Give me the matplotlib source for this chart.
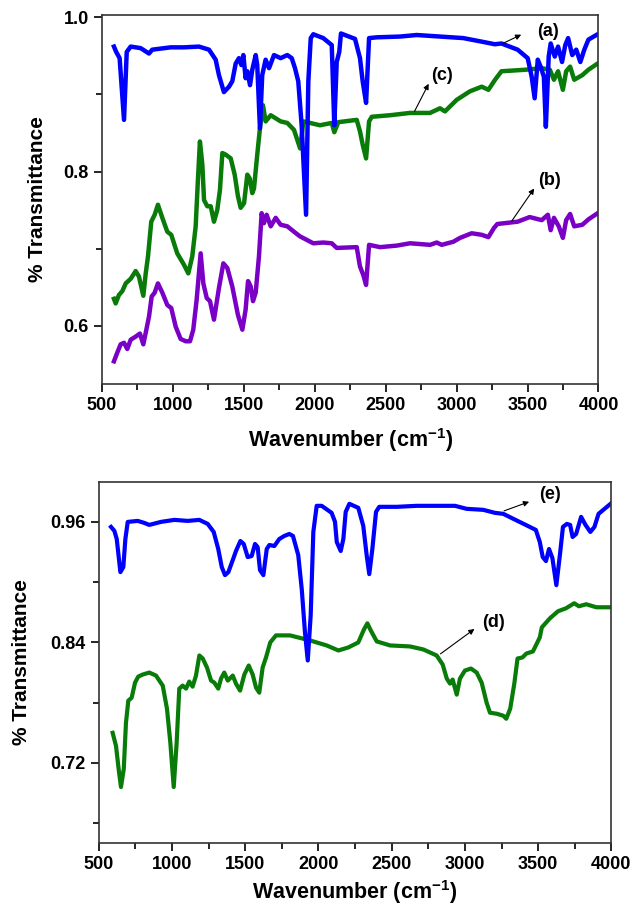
import matplotlib
matplotlib.use("Agg")
import matplotlib.pyplot as plt
from matplotlib.ticker import MultipleLocator

plt.rcParams['font.family'] = ['Liberation Sans', 'DejaVu Sans']
plt.rcParams['font.weight'] = 'bold'
plt.rcParams['mathtext.fontset'] = 'custom'
plt.rcParams['mathtext.rm'] = 'Liberation Sans:bold'
plt.rcParams['mathtext.default'] = 'rm'

# --- top panel: spectra (a), (b), (c) ---
a_wn = [585, 601, 625, 656, 675, 703, 773, 832, 855, 985, 1079, 1184, 1255, 1302, 1325,
        1360, 1396, 1419, 1443, 1466, 1483, 1497, 1513, 1525, 1544, 1560, 1584, 1595, 1614,
        1630, 1654, 1678, 1713, 1760, 1807, 1838, 1861, 1884, 1908, 1939, 1955, 1972, 1990,
        2060, 2120, 2138, 2155, 2173, 2185, 2213, 2284, 2319, 2338, 2362, 2383, 2437, 2601,
        2719, 2883, 3047, 3188, 3270, 3316, 3430, 3501, 3529, 3550, 3572, 3592, 3615, 3629,
        3649, 3663, 3692, 3715, 3743, 3766, 3786, 3815, 3843, 3872, 3900, 3929, 3994]
a_t = [0.962, 0.955, 0.947, 0.867, 0.955, 0.962, 0.960, 0.953, 0.958, 0.961, 0.961, 0.962,
       0.958, 0.945, 0.925, 0.903, 0.910, 0.917, 0.940, 0.947, 0.938, 0.951, 0.921, 0.930,
       0.912, 0.932, 0.951, 0.938, 0.856, 0.925, 0.945, 0.934, 0.951, 0.947, 0.951, 0.947,
       0.934, 0.917, 0.860, 0.744, 0.917, 0.973, 0.978, 0.973, 0.964, 0.860, 0.942, 0.955,
       0.979, 0.977, 0.972, 0.947, 0.917, 0.889, 0.973, 0.974, 0.975, 0.977, 0.975, 0.973,
       0.968, 0.965, 0.966, 0.958, 0.947, 0.923, 0.895, 0.945, 0.936, 0.923, 0.858, 0.949,
       0.966, 0.949, 0.962, 0.942, 0.964, 0.973, 0.951, 0.958, 0.942, 0.958, 0.971, 0.978]

c_wn = [585, 597, 620, 644, 668, 703, 738, 761, 792, 809, 825, 848, 872, 895, 926, 961, 989,
        1031, 1079, 1109, 1137, 1161, 1177, 1191, 1208, 1220, 1243, 1267, 1290, 1313, 1332,
        1349, 1372, 1408, 1436, 1459, 1478, 1502, 1525, 1542, 1560, 1572, 1595, 1614, 1635,
        1654, 1690, 1725, 1760, 1807, 1854, 1897, 1920, 1967, 2037, 2120, 2138, 2166, 2296,
        2319, 2338, 2362, 2383, 2402, 2531, 2672, 2813, 2883, 2918, 3001, 3094, 3177, 3224,
        3271, 3316, 3487, 3600, 3657, 3686, 3715, 3749, 3772, 3800, 3829, 3886, 3929, 3994]
c_t = [0.635, 0.629, 0.640, 0.645, 0.655, 0.661, 0.671, 0.664, 0.639, 0.668, 0.690, 0.735,
       0.744, 0.757, 0.740, 0.722, 0.718, 0.694, 0.679, 0.668, 0.690, 0.729, 0.790, 0.839,
       0.809, 0.763, 0.755, 0.755, 0.735, 0.750, 0.776, 0.824, 0.822, 0.817, 0.796, 0.768,
       0.753, 0.759, 0.796, 0.791, 0.772, 0.778, 0.822, 0.856, 0.886, 0.865, 0.873, 0.869,
       0.865, 0.863, 0.854, 0.830, 0.865, 0.863, 0.860, 0.863, 0.851, 0.864, 0.867, 0.852,
       0.835, 0.817, 0.865, 0.871, 0.873, 0.876, 0.876, 0.882, 0.878, 0.893, 0.904, 0.910,
       0.906, 0.919, 0.930, 0.932, 0.934, 0.932, 0.919, 0.930, 0.906, 0.930, 0.936, 0.919,
       0.925, 0.932, 0.940]

b_wn = [585, 608, 632, 656, 679, 703, 738, 768, 792, 809, 832, 851, 872, 895, 926, 961, 989,
        1020, 1055, 1091, 1121, 1144, 1168, 1196, 1215, 1239, 1262, 1290, 1325, 1356, 1384,
        1419, 1459, 1490, 1513, 1530, 1549, 1565, 1584, 1607, 1626, 1642, 1661, 1690, 1725,
        1760, 1807, 1854, 1896, 1990, 2060, 2120, 2155, 2296, 2319, 2342, 2362, 2383, 2460,
        2578, 2672, 2813, 2860, 2895, 2977, 3024, 3106, 3177, 3224, 3264, 3287, 3430, 3515,
        3600, 3643, 3663, 3686, 3720, 3749, 3772, 3800, 3829, 3886, 3929, 3994]
b_t = [0.554, 0.565, 0.576, 0.578, 0.570, 0.582, 0.586, 0.590, 0.576, 0.591, 0.612, 0.638,
       0.643, 0.655, 0.643, 0.627, 0.623, 0.599, 0.583, 0.580, 0.580, 0.595, 0.634, 0.694,
       0.655, 0.636, 0.632, 0.608, 0.649, 0.681, 0.675, 0.651, 0.614, 0.595, 0.621, 0.658,
       0.651, 0.632, 0.643, 0.690, 0.746, 0.733, 0.744, 0.729, 0.740, 0.731, 0.729, 0.722,
       0.716, 0.707, 0.708, 0.707, 0.701, 0.702, 0.677, 0.666, 0.653, 0.705, 0.702, 0.704,
       0.707, 0.705, 0.708, 0.705, 0.709, 0.714, 0.720, 0.718, 0.715, 0.727, 0.732, 0.735,
       0.741, 0.737, 0.744, 0.724, 0.740, 0.729, 0.714, 0.737, 0.745, 0.729, 0.731, 0.738,
       0.746]

# --- bottom panel: spectra (d), (e) ---
e_wn = [584, 607, 623, 648, 668, 682, 698, 766, 811, 845, 925, 1016, 1107, 1187, 1244, 1285,
        1316, 1340, 1362, 1385, 1415, 1437, 1467, 1490, 1517, 1544, 1567, 1585, 1601, 1624,
        1647, 1665, 1699, 1733, 1767, 1801, 1826, 1862, 1886, 1908, 1927, 1947, 1965, 1988,
        2022, 2090, 2113, 2125, 2152, 2170, 2186, 2211, 2272, 2306, 2329, 2347, 2368, 2393,
        2415, 2534, 2671, 2807, 2932, 3012, 3125, 3205, 3262, 3331, 3415, 3484, 3511, 3531,
        3553, 3574, 3597, 3624, 3649, 3669, 3696, 3718, 3735, 3759, 3793, 3823, 3856, 3884,
        3912, 3953, 3994]
e_t = [0.955, 0.951, 0.943, 0.910, 0.915, 0.943, 0.960, 0.961, 0.959, 0.957, 0.960, 0.962,
       0.961, 0.962, 0.958, 0.950, 0.933, 0.915, 0.907, 0.910, 0.922, 0.931, 0.941, 0.938,
       0.925, 0.926, 0.938, 0.935, 0.912, 0.907, 0.933, 0.937, 0.936, 0.943, 0.946, 0.948,
       0.946, 0.927, 0.893, 0.850, 0.822, 0.867, 0.950, 0.976, 0.976, 0.969, 0.960, 0.940,
       0.931, 0.943, 0.970, 0.978, 0.974, 0.956, 0.927, 0.908, 0.933, 0.970, 0.975, 0.975,
       0.976, 0.976, 0.976, 0.973, 0.972, 0.969, 0.968, 0.963, 0.957, 0.952, 0.940, 0.925,
       0.921, 0.933, 0.924, 0.897, 0.928, 0.955, 0.958, 0.957, 0.945, 0.948, 0.965, 0.957,
       0.950, 0.955, 0.968, 0.973, 0.978]

d_wn = [595, 618, 636, 652, 671, 686, 702, 725, 748, 770, 800, 845, 891, 937, 966, 989, 1012,
        1032, 1050, 1073, 1096, 1118, 1141, 1164, 1187, 1210, 1239, 1267, 1289, 1316, 1335,
        1357, 1381, 1415, 1437, 1465, 1494, 1524, 1551, 1574, 1596, 1619, 1642, 1671, 1710,
        1767, 1806, 1942, 2056, 2136, 2204, 2272, 2311, 2334, 2357, 2398, 2489, 2625, 2716,
        2807, 2848, 2876, 2898, 2916, 2944, 2966, 3000, 3041, 3080, 3114, 3148, 3171, 3217,
        3262, 3282, 3309, 3337, 3359, 3392, 3420, 3464, 3511, 3525, 3580, 3635, 3690, 3746,
        3778, 3828, 3897, 3994]
d_t = [0.750, 0.737, 0.714, 0.696, 0.714, 0.760, 0.782, 0.785, 0.800, 0.806, 0.808, 0.810,
       0.807, 0.797, 0.774, 0.740, 0.696, 0.740, 0.794, 0.797, 0.794, 0.801, 0.796, 0.807,
       0.827, 0.824, 0.815, 0.802, 0.800, 0.794, 0.804, 0.810, 0.802, 0.807, 0.799, 0.792,
       0.808, 0.817, 0.808, 0.795, 0.790, 0.815, 0.825, 0.840, 0.847, 0.847, 0.847, 0.842,
       0.837, 0.832, 0.835, 0.840, 0.853, 0.859, 0.852, 0.841, 0.837, 0.836, 0.833, 0.827,
       0.818, 0.804, 0.799, 0.803, 0.788, 0.804, 0.812, 0.814, 0.810, 0.800, 0.780, 0.770,
       0.769, 0.767, 0.764, 0.774, 0.799, 0.824, 0.825, 0.829, 0.831, 0.845, 0.855, 0.864,
       0.871, 0.874, 0.879, 0.876, 0.878, 0.875, 0.875]

BLUE = '#0000ff'
GREEN = '#087b08'
PURPLE = '#7b00c6'

fig = plt.figure(figsize=(6.34, 9.06), dpi=100)
ax1 = fig.add_axes([0.1607, 0.5765, 0.7833, 0.4070])
ax2 = fig.add_axes([0.1557, 0.0692, 0.8087, 0.3991])

ax1.plot(c_wn, c_t, color=GREEN, lw=3.2)
ax1.plot(b_wn, b_t, color=PURPLE, lw=3.2)
ax1.plot(a_wn, a_t, color=BLUE, lw=3.2)
ax1.set_xlim(500, 4000)
ax1.set_ylim(0.525, 1.003)
ax1.yaxis.set_major_locator(MultipleLocator(0.2))
ax1.yaxis.set_minor_locator(MultipleLocator(0.1))
ax1.yaxis.set_major_formatter(plt.FormatStrFormatter('%.1f'))

ax2.plot(d_wn, d_t, color=GREEN, lw=3)
ax2.plot(e_wn, e_t, color=BLUE, lw=3)
ax2.set_xlim(500, 4000)
ax2.set_ylim(0.64, 1.0)
ax2.yaxis.set_major_locator(MultipleLocator(0.12))
ax2.yaxis.set_minor_locator(MultipleLocator(0.06))
ax2.yaxis.set_major_formatter(plt.FormatStrFormatter('%.2f'))

for ax in (ax1, ax2):
    ax.xaxis.set_major_locator(MultipleLocator(500))
    ax.xaxis.set_minor_locator(MultipleLocator(250))
    ax.tick_params(which='major', direction='out', length=6, width=1.2, labelsize=13)
    ax.tick_params(which='minor', direction='out', length=4, width=1.2)
    for lab in ax.get_xticklabels() + ax.get_yticklabels():
        lab.set_fontweight('bold')
    for sp in ax.spines.values():
        sp.set_linewidth(1.2)
        sp.set_color('#333333')
    ax.set_ylabel('% Transmittance', fontsize=15, fontweight='bold')

ax1.set_xlabel('Wavenumber (cm$^{-1}$)', fontsize=15.5, fontweight='bold', labelpad=9)
ax2.set_xlabel('Wavenumber (cm$^{-1}$)', fontsize=15.5, fontweight='bold', labelpad=3)
ax1.yaxis.set_label_coords(-0.11, 0.5)
ax2.yaxis.set_label_coords(-0.132, 0.5)

arrow = dict(arrowstyle='-|>', color='black', lw=0.8, mutation_scale=8)
ax1.annotate('', xy=(3473, 0.979), xytext=(3302, 0.964), arrowprops=arrow)
ax1.text(3644, 0.981, '(a)', fontsize=13, fontweight='bold', ha='center', va='center')
ax1.annotate('', xy=(2812, 0.917), xytext=(2695, 0.875), arrowprops=arrow)
ax1.text(2895, 0.925, '(c)', fontsize=13, fontweight='bold', ha='center', va='center')
ax1.annotate('', xy=(3558, 0.781), xytext=(3378, 0.733), arrowprops=arrow)
ax1.text(3658, 0.789, '(b)', fontsize=13, fontweight='bold', ha='center', va='center')

ax2.annotate('', xy=(3456, 0.981), xytext=(3249, 0.970), arrowprops=arrow)
ax2.text(3581, 0.987, '(e)', fontsize=13, fontweight='bold', ha='center', va='center')
ax2.annotate('', xy=(3080, 0.855), xytext=(2818, 0.827), arrowprops=arrow)
ax2.text(3194, 0.860, '(d)', fontsize=13, fontweight='bold', ha='center', va='center')

fig.savefig('out.png', dpi=100)
